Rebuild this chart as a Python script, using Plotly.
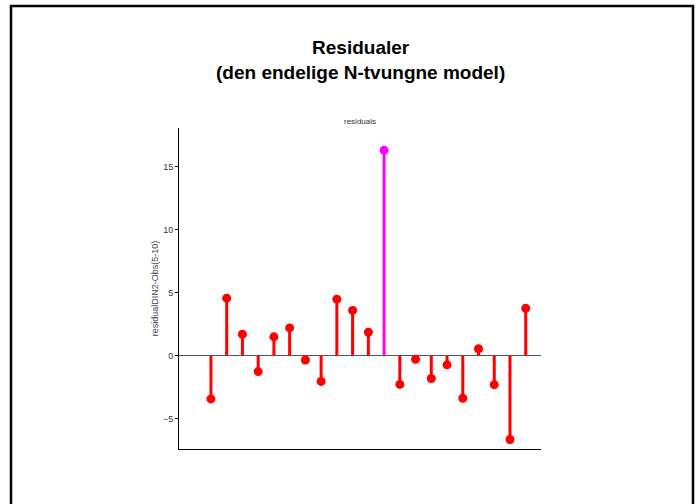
import plotly.graph_objects as go

obs_index = list(range(1, 22))
residuals = [-3.43, 4.56, 1.70, -1.26, 1.49, 2.20, -0.34, -2.04, 4.48, 3.59, 1.86,
             16.28, -2.28, -0.29, -1.81, -0.73, -3.38, 0.55, -2.30, -6.65, 3.75]
highlight = [False]*11 + [True] + [False]*9
y_ticks = [-5, 0, 5, 10, 15]

RED = "#ff0000"
MAG = "#ff00ff"

def stems(flag):
    xs, ys = [], []
    for x, y, h in zip(obs_index, residuals, highlight):
        if h == flag:
            xs += [x, x, None]
            ys += [0, y, None]
    return xs, ys

fig = go.Figure()
for flag, col in [(False, RED), (True, MAG)]:
    sx, sy = stems(flag)
    fig.add_trace(go.Scatter(x=sx, y=sy, mode="lines",
                             line=dict(color=col, width=3), hoverinfo="skip"))
    px = [x for x, h in zip(obs_index, highlight) if h == flag]
    py = [y for y, h in zip(residuals, highlight) if h == flag]
    fig.add_trace(go.Scatter(x=px, y=py, mode="markers",
                             marker=dict(color=col, size=9, line=dict(width=0))))

fig.update_layout(
    width=700, height=504,
    margin=dict(l=179, r=159, t=128, b=55),
    paper_bgcolor="white", plot_bgcolor="white",
    showlegend=False,
    font=dict(family="Liberation Sans, Arial, sans-serif", color="#333"),
    xaxis=dict(range=[-1.03, 21.97], showgrid=False, zeroline=False,
               showticklabels=False, ticks="", showline=True,
               linecolor="black", linewidth=1, mirror=False),
    yaxis=dict(range=[-7.4, 18.05], tickvals=y_ticks, showgrid=False,
               zeroline=True, zerolinecolor="#555", zerolinewidth=1,
               ticks="outside", ticklen=3, tickcolor="black",
               tickfont=dict(size=9, color="#333"),
               showline=True, linecolor="black", linewidth=1,
               title=dict(text="residualDIN2-Obs(5-10)",
                          font=dict(size=9, color="#444"), standoff=2)),
    annotations=[
        dict(text="<b>Residualer<br>(den endelige N-tvungne model)</b>",
             xref="paper", yref="paper", x=0.5, y=(449-60)/321,
             xanchor="center", yanchor="middle", showarrow=False,
             font=dict(size=19, color="black")),
        dict(text="residuals", xref="paper", yref="paper", x=0.5,
             y=(449-121)/321, xanchor="center", yanchor="middle",
             showarrow=False, font=dict(size=8, color="#333")),
    ],
    shapes=[
        dict(type="rect", xref="paper", yref="paper",
             x0=(11-179)/362, x1=(693-179)/362,
             y0=(449-515)/321, y1=(449-6)/321,
             line=dict(color="black", width=2.5), fillcolor="rgba(0,0,0,0)"),
    ],
)

fig.write_html("out.html", config={"displayModeBar": False},
               post_script="document.body.style.margin='0';")
